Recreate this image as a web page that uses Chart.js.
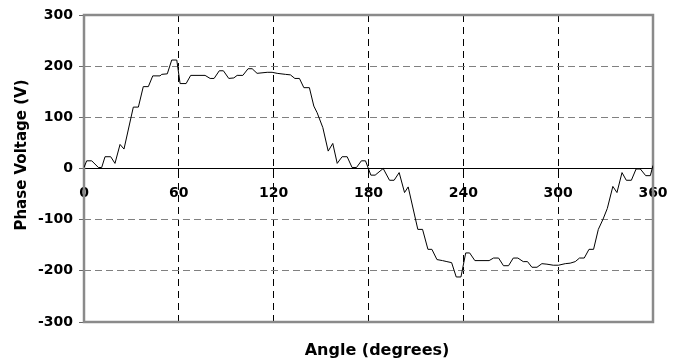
<!DOCTYPE html>
<html>
<head>
<meta charset="utf-8">
<script src="https://cdn.jsdelivr.net/npm/chart.js@4"></script>
<style>
  html, body { margin: 0; padding: 0; background: #fff; }
</style>
</head>
<body>
<canvas id="phase-chart" width="682" height="361"></canvas>
<script>
// angle in degrees
const angles = [
  0, 1.7, 4.9, 9.1, 11.2, 13.3, 16.9, 19.6, 22.8, 25.3,
  31.2, 34.4, 37.5, 40.7, 43.5, 48.1, 49.2, 52.7, 55.5, 58.7,
  60.8, 64.6, 67.5, 76.6, 79.8, 82.3, 85.6, 88.2, 91.6, 94.8,
  96.9, 100.5, 103.8, 106.4, 109.5, 115.9, 119.0, 122.2, 127.4, 130.6,
  133.4, 136.3, 139.1, 142.6, 145.4, 147.5, 151.1, 154.5, 157.4, 160.2,
  163.3, 166.5, 169.6, 172.4, 175.5, 178.1, 181.5, 184.2, 189.3, 193.3,
  196.2, 199.4, 202.8, 205.1, 211.2, 214.2, 217.6, 220.1, 223.3, 226.8,
  229.6, 232.6, 235.5, 238.5, 241.5, 244.0, 247.3, 256.3, 259.1, 262.3,
  265.4, 268.6, 271.6, 274.5, 277.9, 280.6, 283.4, 286.6, 289.7, 292.9,
  296.9, 300.2, 304.5, 307.6, 310.8, 313.5, 316.5, 319.5, 322.4, 325.4,
  328.4, 331.1, 334.6, 337.2, 340.4, 343.1, 346.3, 349.3, 352.0, 355.4,
  358.3, 360
]

const voltage = [
  2, 15, 15, 2, 2, 23, 23, 10, 47, 38,
  120, 120, 160, 160, 181, 181, 184, 185, 212, 212,
  166, 166, 182, 182, 176, 176, 191, 191, 176, 177,
  182, 182, 195, 195, 186, 188, 188, 186, 184, 183,
  176, 176, 158, 158, 122, 109, 80, 34, 49, 10,
  23, 23, 2, 2, 15, 15, -13, -13, 0, -23,
  -23, -8, -47, -36, -119, -119, -158, -158, -178, -180,
  -182, -184, -212, -212, -165, -165, -180, -180, -175, -175,
  -190, -190, -175, -175, -182, -182, -193, -193, -186, -187,
  -189, -189, -186, -185, -182, -175, -175, -158, -158, -119,
  -99, -78, -35, -47, -8, -23, -23, -1, -1, -14,
  -14, 6
]

const xTitle = 'Angle (degrees)'
const yTitle = 'Phase Voltage (V)'

const boldFont = { family: 'DejaVu Sans', size: 14, weight: 'bold' }

// gray frame round the plot area and the two axis titles
const framePlugin = {
  id: 'frame',
  beforeDatasetsDraw(chart) {
    const { ctx, chartArea: a } = chart
    ctx.save()
    ctx.strokeStyle = '#8a8a8a'
    ctx.lineWidth = 2.5
    ctx.strokeRect(a.left, a.top, a.right - a.left, a.bottom - a.top)
    ctx.restore()
  },
  afterDraw(chart) {
    const ctx = chart.ctx
    ctx.save()
    ctx.fillStyle = '#000'
    ctx.textAlign = 'center'
    ctx.textBaseline = 'middle'
    ctx.font = 'bold 16px "DejaVu Sans"'
    ctx.fillText(xTitle, 377, 351)
    ctx.font = 'bold 15px "DejaVu Sans"'
    ctx.translate(22, 155)
    ctx.rotate(-Math.PI / 2)
    ctx.fillText(yTitle, 0, 0)
    ctx.restore()
  },
}

const data = {
  datasets: [
    {
      data: angles.map((a, i) => ({ x: a, y: voltage[i] })),
      borderColor: '#000',
      borderWidth: 1,
      pointRadius: 0,
      showLine: true,
      tension: 0,
    },
  ],
}

const config = {
  type: 'scatter',
  data: data,
  options: {
    responsive: false,
    animation: false,
    layout: { padding: { top: 15, right: 29, bottom: 39, left: 0 } },
    plugins: { legend: { display: false }, tooltip: { enabled: false } },
    scales: {
      x: {
        type: 'linear',
        position: { y: 0 },
        min: 0,
        max: 360,
        ticks: { stepSize: 60, color: '#000', font: boldFont, padding: 11, maxRotation: 0 },
        grid: {
          color: (c) => (c.tick && (c.tick.value === 0 || c.tick.value === 360) ? 'rgba(0,0,0,0)' : '#000'),
          tickColor: '#000',
          tickLength: 5,
          tickBorderDash: [7, 5],
        },
        border: { display: true, color: '#000', width: 1, dash: [7, 5] },
      },
      y: {
        min: -300,
        max: 300,
        afterFit: (scale) => { scale.width = 84 },
        ticks: { stepSize: 100, color: '#000', font: boldFont, padding: 6 },
        grid: {
          color: (c) => (c.tick && Math.abs(c.tick.value) % 300 === 0 ? 'rgba(0,0,0,0)' : '#808080'),
          tickColor: '#666',
          tickLength: 5,
        },
        border: { display: false, dash: [7, 4] },
      },
    },
  },
  plugins: [framePlugin],
}

const phase_chart = document.getElementById('phase-chart')
const chart = new Chart(phase_chart, config)
</script>
</body>
</html>
